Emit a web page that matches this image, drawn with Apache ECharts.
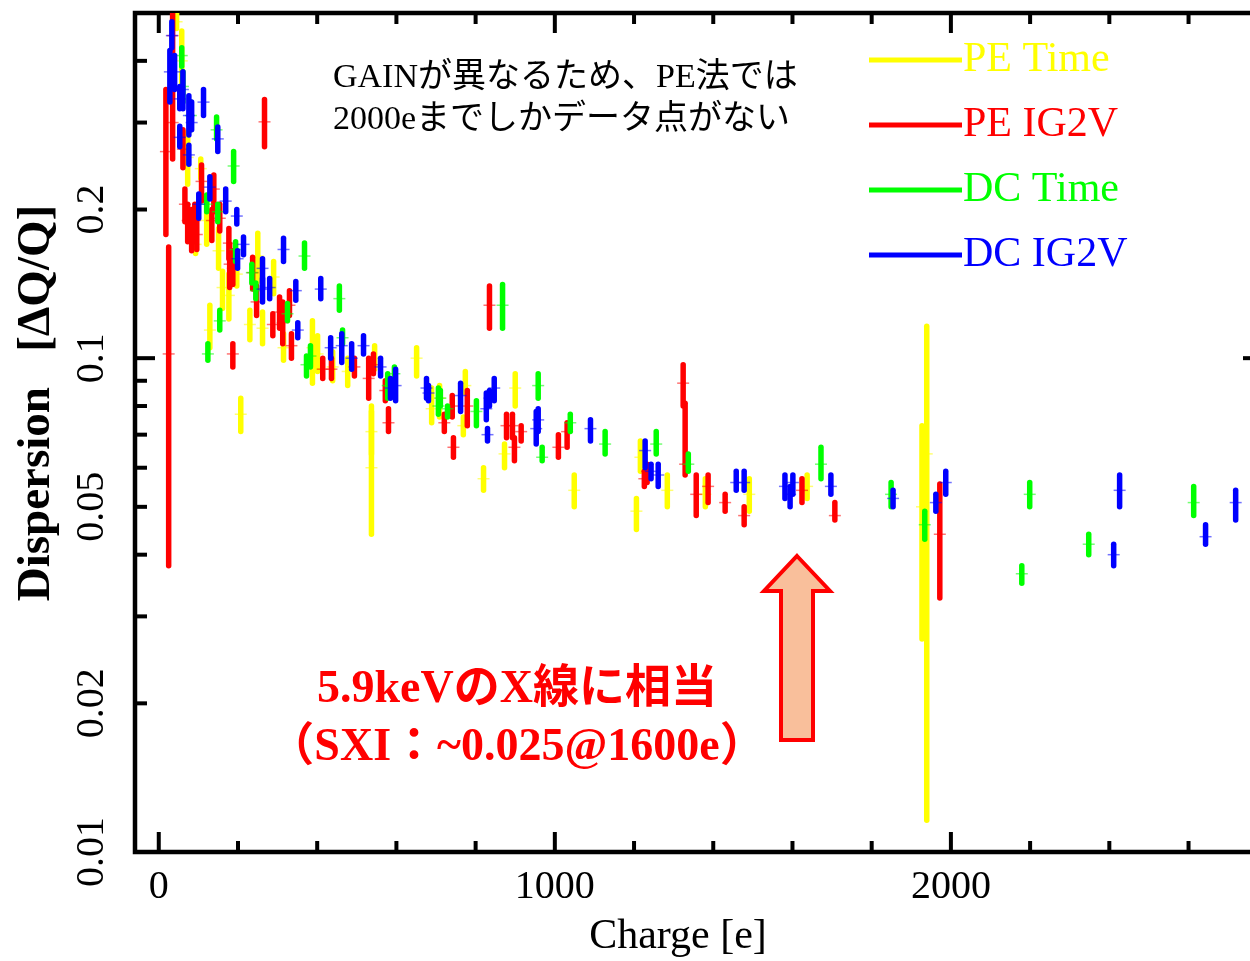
<!DOCTYPE html>
<html>
<head>
<meta charset="utf-8">
<script src="https://cdn.jsdelivr.net/npm/echarts@6.0.0/dist/echarts.min.js"></script>
<style>
  html, body { margin: 0; padding: 0; background: #fff; }
  #chart { width: 1250px; height: 961px; }
</style>
</head>
<body>
<div id="chart"></div>
<script>
// Each point: [charge (e), dispersion ΔQ/Q, lower end of error bar, upper end of error bar]
const peTime = [
  [45, 0.48, 0.465, 0.50], [58, 0.40, 0.346, 0.46], [73, 0.255, 0.225, 0.287],
  [106, 0.242, 0.231, 0.253], [121, 0.19, 0.170, 0.208], [93, 0.17, 0.163, 0.178],
  [151, 0.165, 0.152, 0.183], [161, 0.139, 0.126, 0.150], [177, 0.134, 0.120, 0.148],
  [197, 0.148, 0.140, 0.157], [250, 0.161, 0.143, 0.179], [290, 0.146, 0.135, 0.157],
  [129, 0.114, 0.105, 0.128], [207, 0.077, 0.071, 0.083], [230, 0.117, 0.109, 0.125],
  [262, 0.115, 0.107, 0.124], [315, 0.105, 0.099, 0.112], [388, 0.105, 0.089, 0.119],
  [401, 0.102, 0.094, 0.111], [439, 0.096, 0.090, 0.103], [477, 0.094, 0.088, 0.100],
  [545, 0.100, 0.095, 0.106], [537, 0.071, 0.064, 0.078], [537, 0.060, 0.044, 0.080],
  [651, 0.100, 0.092, 0.105], [689, 0.079, 0.074, 0.087], [709, 0.083, 0.076, 0.088],
  [774, 0.088, 0.085, 0.094], [769, 0.073, 0.070, 0.076], [900, 0.087, 0.080, 0.093],
  [873, 0.064, 0.060, 0.067], [820, 0.057, 0.054, 0.060], [1049, 0.054, 0.050, 0.058],
  [1216, 0.063, 0.059, 0.068], [1206, 0.049, 0.045, 0.052], [1284, 0.054, 0.050, 0.058],
  [1380, 0.053, 0.050, 0.057], [1491, 0.053, 0.049, 0.057], [1637, 0.055, 0.052, 0.058],
  [1939, 0.064, 0.0116, 0.116], [1927, 0.050, 0.027, 0.073]
];
const peIG2V = [
  [35, 0.45, 0.41, 0.50], [18, 0.262, 0.178, 0.35], [25, 0.102, 0.038, 0.168],
  [35, 0.30, 0.253, 0.346], [61, 0.265, 0.243, 0.29], [108, 0.228, 0.208, 0.246],
  [66, 0.205, 0.189, 0.22], [73, 0.19, 0.172, 0.205], [83, 0.185, 0.165, 0.20],
  [139, 0.22, 0.198, 0.235], [154, 0.192, 0.181, 0.205], [91, 0.19, 0.172, 0.205],
  [96, 0.178, 0.166, 0.19], [134, 0.19, 0.173, 0.20], [177, 0.171, 0.159, 0.183],
  [179, 0.155, 0.139, 0.17], [187, 0.152, 0.141, 0.165], [237, 0.149, 0.138, 0.16],
  [247, 0.130, 0.122, 0.140], [267, 0.301, 0.268, 0.334], [187, 0.102, 0.096, 0.107],
  [305, 0.124, 0.115, 0.133], [313, 0.118, 0.107, 0.13], [330, 0.128, 0.122, 0.137],
  [288, 0.117, 0.111, 0.123], [335, 0.106, 0.100, 0.112], [414, 0.095, 0.091, 0.100],
  [436, 0.095, 0.091, 0.100], [494, 0.096, 0.092, 0.100], [530, 0.091, 0.083, 0.100],
  [542, 0.097, 0.093, 0.102], [572, 0.086, 0.082, 0.090], [580, 0.074, 0.071, 0.079],
  [721, 0.074, 0.071, 0.077], [741, 0.080, 0.076, 0.084], [744, 0.066, 0.063, 0.069],
  [779, 0.080, 0.073, 0.086], [878, 0.073, 0.069, 0.077], [893, 0.073, 0.069, 0.077],
  [915, 0.071, 0.068, 0.073], [898, 0.066, 0.062, 0.069], [835, 0.128, 0.115, 0.140],
  [1031, 0.071, 0.066, 0.074], [1009, 0.066, 0.063, 0.070], [1226, 0.057, 0.055, 0.059],
  [1233, 0.059, 0.056, 0.061], [1324, 0.089, 0.080, 0.097], [1329, 0.061, 0.058, 0.081],
  [1357, 0.053, 0.048, 0.058], [1387, 0.055, 0.051, 0.058], [1430, 0.051, 0.049, 0.053],
  [1478, 0.048, 0.046, 0.050], [1624, 0.054, 0.051, 0.057], [1707, 0.048, 0.047, 0.051],
  [1972, 0.044, 0.0327, 0.0556]
];
const dcTime = [
  [58, 0.41, 0.39, 0.425], [61, 0.355, 0.33, 0.38], [81, 0.31, 0.29, 0.33],
  [146, 0.29, 0.278, 0.308], [189, 0.245, 0.228, 0.262], [121, 0.205, 0.198, 0.214],
  [149, 0.198, 0.189, 0.205], [194, 0.166, 0.157, 0.172], [235, 0.149, 0.142, 0.155],
  [245, 0.137, 0.132, 0.142], [154, 0.119, 0.114, 0.125], [124, 0.102, 0.099, 0.107],
  [368, 0.161, 0.152, 0.171], [456, 0.132, 0.125, 0.14], [325, 0.123, 0.119, 0.129],
  [383, 0.101, 0.096, 0.106], [373, 0.097, 0.092, 0.101], [464, 0.11, 0.107, 0.114],
  [578, 0.088, 0.083, 0.093], [595, 0.093, 0.09, 0.096], [706, 0.08, 0.077, 0.087],
  [711, 0.083, 0.08, 0.086], [729, 0.079, 0.076, 0.08], [868, 0.128, 0.115, 0.141],
  [802, 0.078, 0.073, 0.082], [958, 0.088, 0.083, 0.093], [968, 0.063, 0.062, 0.066],
  [1039, 0.074, 0.071, 0.077], [1127, 0.067, 0.064, 0.071], [1256, 0.067, 0.064, 0.071],
  [1337, 0.061, 0.059, 0.064], [1672, 0.061, 0.057, 0.066], [1849, 0.053, 0.05, 0.056],
  [1934, 0.046, 0.043, 0.049], [2199, 0.053, 0.05, 0.056], [2179, 0.0366, 0.035, 0.038],
  [2348, 0.042, 0.04, 0.044], [2613, 0.051, 0.048, 0.055]
];
const dcIG2V = [
  [33, 0.45, 0.425, 0.48], [28, 0.38, 0.33, 0.42], [40, 0.38, 0.35, 0.41],
  [61, 0.35, 0.32, 0.38], [53, 0.335, 0.32, 0.355], [76, 0.31, 0.283, 0.34],
  [83, 0.30, 0.29, 0.33], [53, 0.28, 0.268, 0.295], [76, 0.258, 0.247, 0.27],
  [113, 0.33, 0.31, 0.35], [149, 0.278, 0.262, 0.294], [129, 0.222, 0.21, 0.233],
  [101, 0.205, 0.192, 0.215], [169, 0.208, 0.198, 0.22], [197, 0.194, 0.187, 0.2],
  [199, 0.159, 0.152, 0.165], [214, 0.17, 0.162, 0.176], [262, 0.152, 0.138, 0.159],
  [262, 0.138, 0.13, 0.145], [280, 0.139, 0.132, 0.145], [315, 0.166, 0.157, 0.175],
  [346, 0.137, 0.131, 0.143], [409, 0.138, 0.132, 0.145], [351, 0.114, 0.11, 0.118],
  [434, 0.105, 0.1, 0.11], [462, 0.106, 0.098, 0.112], [487, 0.1, 0.095, 0.107],
  [517, 0.106, 0.102, 0.111], [560, 0.096, 0.092, 0.1], [585, 0.087, 0.083, 0.091],
  [598, 0.088, 0.082, 0.095], [676, 0.087, 0.083, 0.091], [681, 0.085, 0.082, 0.088],
  [762, 0.084, 0.078, 0.089], [827, 0.079, 0.075, 0.085], [835, 0.083, 0.080, 0.086],
  [847, 0.087, 0.082, 0.091], [830, 0.07, 0.068, 0.072], [953, 0.072, 0.067, 0.078],
  [958, 0.075, 0.071, 0.079], [1090, 0.072, 0.068, 0.075], [1228, 0.065, 0.06, 0.068],
  [1243, 0.059, 0.057, 0.061], [1261, 0.058, 0.055, 0.061], [1458, 0.056, 0.054, 0.059],
  [1478, 0.056, 0.054, 0.059], [1581, 0.055, 0.052, 0.058], [1594, 0.053, 0.05, 0.055],
  [1601, 0.056, 0.053, 0.058], [1697, 0.055, 0.053, 0.058], [1854, 0.052, 0.05, 0.054],
  [1962, 0.051, 0.049, 0.053], [1987, 0.056, 0.053, 0.059], [2411, 0.040, 0.038, 0.042],
  [2426, 0.054, 0.05, 0.058], [2643, 0.0435, 0.042, 0.046], [2719, 0.051, 0.047, 0.054]
];

const seriesNames = ['PE Time', 'PE IG2V', 'DC Time', 'DC IG2V'];
const seriesColors = ['#FFFF00', '#FF0000', '#00FF00', '#0000FF'];
const seriesData = [peTime, peIG2V, dcTime, dcIG2V];

// Axis ranges and tick values
const X_MIN = -60, X_MAX = 2788;
const Y_MIN = 0.01, Y_MAX = 0.5;
const xTicks = [0, 200, 400, 600, 800, 1000, 1200, 1400, 1600, 1800, 2000, 2200, 2400, 2600];
const xMajorTicks = [0, 1000, 2000];
const xTickLabels = [0, 1000, 2000];
const yTicks = [0.01, 0.02, 0.03, 0.04, 0.05, 0.06, 0.07, 0.08, 0.09, 0.1, 0.2, 0.3, 0.4];
const yMajorTicks = [0.01, 0.1];
const yTickLabels = ['0.01', '0.02', '0.05', '0.1', '0.2'];

const SERIF = '"Liberation Serif", "Times New Roman", serif';
const SERIF_JP = '"Liberation Serif", "Noto Sans CJK JP", serif';

function textStyle(text, size, color, weight, family) {
  return {
    text: text, fill: color, fontSize: size, fontFamily: family || SERIF,
    fontWeight: weight || 'normal',
    align: 'center', verticalAlign: 'middle',
    textAlign: 'center', textVerticalAlign: 'middle'
  };
}

// Vertical error bar with a thin cross mark at the central value
function renderErrorBar(params, api) {
  const x = api.value(0);
  const c = api.coord([x, api.value(1)]);
  const lo = api.coord([x, api.value(2)]);
  const hi = api.coord([x, api.value(3)]);
  const color = api.visual('color');
  return {
    type: 'group',
    children: [
      { type: 'line', shape: { x1: c[0], y1: hi[1], x2: c[0], y2: lo[1] },
        style: { stroke: color, lineWidth: 5.5, lineCap: 'round' } },
      { type: 'line', shape: { x1: c[0] - 6, y1: c[1], x2: c[0] + 6, y2: c[1] },
        style: { stroke: color, lineWidth: 1.5, opacity: 0.55 } }
    ]
  };
}

// Ticks on the bottom and top edges, labels under the bottom edge
function renderXTick(params, api) {
  const v = api.value(0);
  const cs = params.coordSys;
  const px = api.coord([v, Y_MIN])[0];
  const len = xMajorTicks.indexOf(v) >= 0 ? 20 : 11;
  const bottom = cs.y + cs.height, top = cs.y;
  const children = [
    { type: 'line', shape: { x1: px, y1: bottom, x2: px, y2: bottom - len }, style: { stroke: '#000', lineWidth: 4 } },
    { type: 'line', shape: { x1: px, y1: top, x2: px, y2: top + len }, style: { stroke: '#000', lineWidth: 4 } }
  ];
  if (xTickLabels.indexOf(v) >= 0) {
    children.push({ type: 'text', x: px, y: bottom + 35, style: textStyle(String(v), 40, '#000') });
  }
  return { type: 'group', children: children };
}

// Ticks on the left and right edges, rotated labels left of the plot
function renderYTick(params, api) {
  const v = api.value(1);
  const cs = params.coordSys;
  const py = api.coord([X_MIN, v])[1];
  const len = yMajorTicks.indexOf(v) >= 0 ? 20 : 12;
  const left = cs.x, right = cs.x + cs.width;
  const children = [
    { type: 'line', shape: { x1: left, y1: py, x2: left + len, y2: py }, style: { stroke: '#000', lineWidth: 4 } },
    { type: 'line', shape: { x1: right, y1: py, x2: right - len, y2: py }, style: { stroke: '#000', lineWidth: 4 } }
  ];
  const label = yTickLabels.find(function (s) { return Math.abs(parseFloat(s) - v) < 1e-9; });
  if (label) {
    children.push({ type: 'text', x: left - 43, y: py, rotation: Math.PI / 2, style: textStyle(label, 40, '#000') });
  }
  return { type: 'group', children: children };
}

const chart = echarts.init(document.getElementById('chart'), null, { renderer: 'canvas' });

const series = seriesData.map(function (data, i) {
  return {
    type: 'custom',
    name: seriesNames[i],
    data: data,
    encode: { x: 0, y: [1, 2, 3] },
    itemStyle: { color: seriesColors[i] },
    renderItem: renderErrorBar,
    clip: true,
    silent: true,
    z: 3 + i
  };
});

series.push({
  type: 'custom', name: 'xTicks', silent: true, z: 20,
  data: xTicks.map(function (v) { return [v, Y_MIN]; }),
  encode: { x: 0, y: 1 },
  renderItem: renderXTick
});
series.push({
  type: 'custom', name: 'yTicks', silent: true, z: 20,
  data: yTicks.map(function (v) { return [X_MIN, v]; }),
  encode: { x: 0, y: 1 },
  renderItem: renderYTick
});

chart.setOption({
  animation: false,
  backgroundColor: '#fff',
  // the frame's right edge lies just past the visible area
  grid: {
    left: 135, top: 13, width: 1128, height: 839,
    outerBoundsMode: 'none',
    show: true, borderColor: '#000', borderWidth: 4.5, backgroundColor: 'transparent'
  },
  xAxis: {
    type: 'value', min: X_MIN, max: X_MAX,
    axisLine: { show: false }, axisTick: { show: false },
    axisLabel: { show: false }, splitLine: { show: false }
  },
  yAxis: {
    type: 'log', logBase: 10, min: Y_MIN, max: Y_MAX,
    axisLine: { show: false }, axisTick: { show: false },
    axisLabel: { show: false }, splitLine: { show: false }
  },
  legend: {
    orient: 'vertical', left: 869, top: 39, padding: 0,
    itemWidth: 93, itemHeight: 5, itemGap: 23, icon: 'rect',
    selectedMode: false,
    textStyle: { fontFamily: SERIF, fontSize: 42, lineHeight: 42, padding: [0, 0, 0, -4] },
    data: seriesNames.map(function (n, i) {
      return { name: n, textStyle: { color: seriesColors[i] }, itemStyle: { color: seriesColors[i] } };
    })
  },
  graphic: [
    { type: 'text', x: 678, y: 937, style: textStyle('Charge [e]', 42, '#000') },
    { type: 'text', x: 37, y: 403, rotation: Math.PI / 2,
      style: textStyle('Dispersion   [ΔQ/Q]', 47, '#000', 'bold') },
    { type: 'text', x: 333, y: 78,
      style: Object.assign(textStyle('GAINが異なるため、PE法では', 34, '#000', 'normal', SERIF_JP), { align: 'left', textAlign: 'left' }) },
    { type: 'text', x: 333, y: 120,
      style: Object.assign(textStyle('2000eまでしかデータ点がない', 34, '#000', 'normal', SERIF_JP), { align: 'left', textAlign: 'left' }) },
    { type: 'text', x: 517, y: 690, style: textStyle('5.9keVのX線に相当', 46, '#FF0000', 'bold', SERIF_JP) },
    { type: 'text', x: 517, y: 748, style: textStyle('（SXI：~0.025@1600e）', 46, '#FF0000', 'bold', SERIF_JP) },
    { type: 'polygon', z: 10,
      shape: { points: [[797, 556], [830, 591], [813, 591], [813, 740], [781, 740], [781, 591], [764, 591]] },
      style: { fill: '#F9BF9B', stroke: '#FF0000', lineWidth: 4, lineJoin: 'miter' } }
  ],
  series: series
});
</script>
</body>
</html>
